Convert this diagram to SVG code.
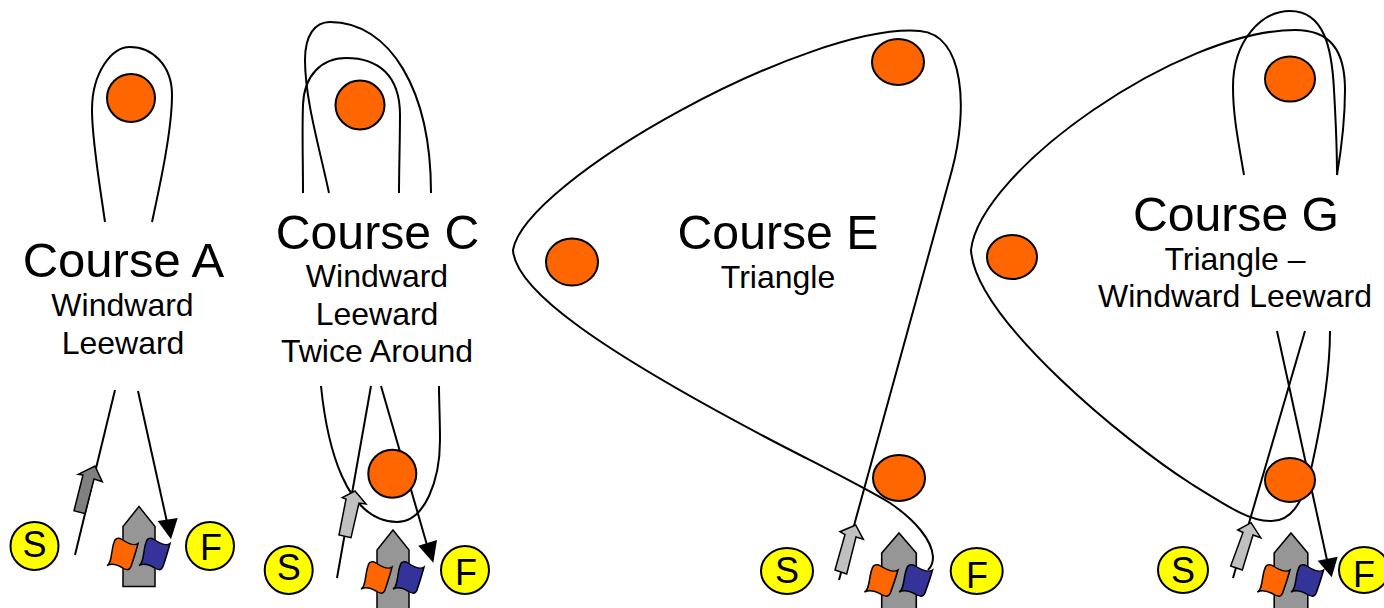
<svg xmlns="http://www.w3.org/2000/svg" width="1384" height="608" viewBox="0 0 1384 608">
<style>
text{font-family:"Liberation Sans",Arial,sans-serif;fill:#000;text-anchor:middle}
.t{font-size:48.200px}.s{font-size:32px}.l{font-size:36px}
.m{fill:#f60;stroke:#000;stroke-width:2}
.y{fill:#ff0;stroke:#000;stroke-width:2}
.c{fill:none;stroke:#000;stroke-width:2}
.h{fill:#000;stroke:none}
.b{stroke:#000;stroke-width:1.5;stroke-linejoin:miter}
.ship{fill:#969696;stroke:#000;stroke-width:1.5}
</style>
<defs>
<path id="flag" d="M-32,59C-27,57-28,44-25,36C-24,31-20,31-17,33C-11,37-5,40-1,37C-3,45-6,54-8,60C-10,65-14,63-17,61C-22,58-27,56-32,59Z" stroke="#000" stroke-width="1.5"/>
<g id="boat">
<path class="ship" d="M0,0L16,20V80H-16V20Z"/>
<use href="#flag" fill="#f60"/>
<use href="#flag" x="32" fill="#339"/>
</g>
</defs>
<g id="connectors">
<path class="c" d="M105,222C99,180 92,140 92,110C92,72 112,47 130,47C152,47 172,65 172,95C172,130 160,185 152,222"/>
<path class="c" d="M75,555L115,390"/>
<path class="c" d="M138,391L167,522"/>
<path class="h" d="M157.700,521L177.700,518L171,539.300Z"/>
<path class="c" d="M303,193C303,160 302,130 303,105C304,75 322,58 346,58C378,58 400,75 400,115C400,140 399,170 399,193"/>
<path class="c" d="M329,193C320,150 305,100 305,60C305,35 315,22 330,22C390,22 431,90 431,193"/>
<path class="c" d="M321,386C327,445 345,521 397,522C425,522 440,480 440,440C440,420 439,400 439,386"/>
<path class="c" d="M337,578L371,386"/>
<path class="c" d="M381,386L427,545"/>
<path class="h" d="M418.300,545.700L437,540L433.300,562.700Z"/>
<path class="c" d="M839,580L952,170C968,110 965,35 920,31C810,22 525,180 513,250C515,290 600,350 771,440C815,463 860,485 890,503C915,520 932,540 933,557C933,563 931,567 928,570"/>
<path class="c" d="M1244,175C1238,140 1233,115 1233,87C1233,40 1262,11 1290,11C1325,11 1332,50 1334,90C1336,125 1337,150 1337,175"/>
<path class="c" d="M1337,175C1342,145 1345,120 1345,90C1345,50 1330,30 1295,30C1180,30 980,170 971,250C975,320 1130,445 1190,483C1230,508 1250,521 1270,521C1290,522 1303,505 1312,465C1322,420 1330,370 1330,331"/>
<path class="c" d="M1233,578L1305,331"/>
<path class="c" d="M1277,331L1327,560"/>
<path class="h" d="M1317.700,560.700L1337.700,556.700L1331.700,577.300Z"/>
</g>
<g id="course-a">
<text class="t" x="123.500" y="277" style="font-size:49px">Course A</text>
<text class="s" x="122.500" y="316">Windward</text>
<text class="s" x="123" y="354">Leeward</text>
<circle class="m" cx="131" cy="98" r="24"/>
<path class="b" fill="#808080" d="M95,466L102.300,481.700L94,479L85,513.700L74,510.700L83,475L78.300,474.300Z"/>
<circle class="y" cx="34.500" cy="546" r="24"/><text class="l" x="34.500" y="557">S</text>
<circle class="y" cx="210" cy="546" r="24"/><text class="l" x="211" y="560">F</text>
<use href="#boat" x="139" y="506.500"/>
</g>
<g id="course-c">
<text class="t" x="377.500" y="249">Course C</text>
<text class="s" x="377" y="287">Windward</text>
<text class="s" x="377" y="325">Leeward</text>
<text class="s" x="377" y="362">Twice Around</text>
<circle class="m" cx="360" cy="105" r="24.500"/>
<circle class="m" cx="392.300" cy="473.700" r="24"/>
<path class="b" fill="#c0c0c0" d="M355,491L366,504L359,503L351,537.700L339,535L346,499L342.300,497.700Z"/>
<circle class="y" cx="288.700" cy="570" r="24"/><text class="l" x="288.700" y="580">S</text>
<circle class="y" cx="465" cy="570" r="24"/><text class="l" x="466" y="585">F</text>
<use href="#boat" x="393" y="530"/>
</g>
<g id="course-e">
<text class="t" x="778" y="249">Course E</text>
<text class="s" x="778" y="288">Triangle</text>
<ellipse class="m" cx="898" cy="62" rx="26" ry="23"/>
<ellipse class="m" cx="572" cy="262" rx="26" ry="23.500"/>
<ellipse class="m" cx="899" cy="478" rx="26" ry="23"/>
<path class="b" fill="#c0c0c0" d="M855.700,525L863.300,539.300L856,537L846.700,574L835,570L845,534.500L840,531.700Z"/>
<ellipse class="y" cx="787" cy="571" rx="26" ry="23"/><text class="l" x="787" y="583">S</text>
<ellipse class="y" cx="976.700" cy="571" rx="26" ry="23"/><text class="l" x="977" y="588">F</text>
<use href="#boat" transform="translate(899 533) scale(1.08 1)"/>
</g>
<g id="course-g">
<text class="t" x="1236" y="231">Course G</text>
<text class="s" x="1235" y="270">Triangle –</text>
<text class="s" x="1235" y="307">Windward Leeward</text>
<ellipse class="m" cx="1290" cy="79" rx="25" ry="22.500"/>
<ellipse class="m" cx="1012" cy="257" rx="25" ry="22"/>
<ellipse class="m" cx="1290" cy="480" rx="25" ry="22"/>
<path class="b" fill="#c0c0c0" d="M1251,522.700L1260.700,537.700L1253,535L1242.300,570L1230.700,566L1243,532.500L1237.700,530Z"/>
<ellipse class="y" cx="1183" cy="570" rx="25" ry="23"/><text class="l" x="1183" y="583">S</text>
<ellipse class="y" cx="1364" cy="570" rx="25" ry="23"/><text class="l" x="1364" y="587">F</text>
<use href="#boat" transform="translate(1291 533) scale(1.05 1)"/>
</g>
</svg>
